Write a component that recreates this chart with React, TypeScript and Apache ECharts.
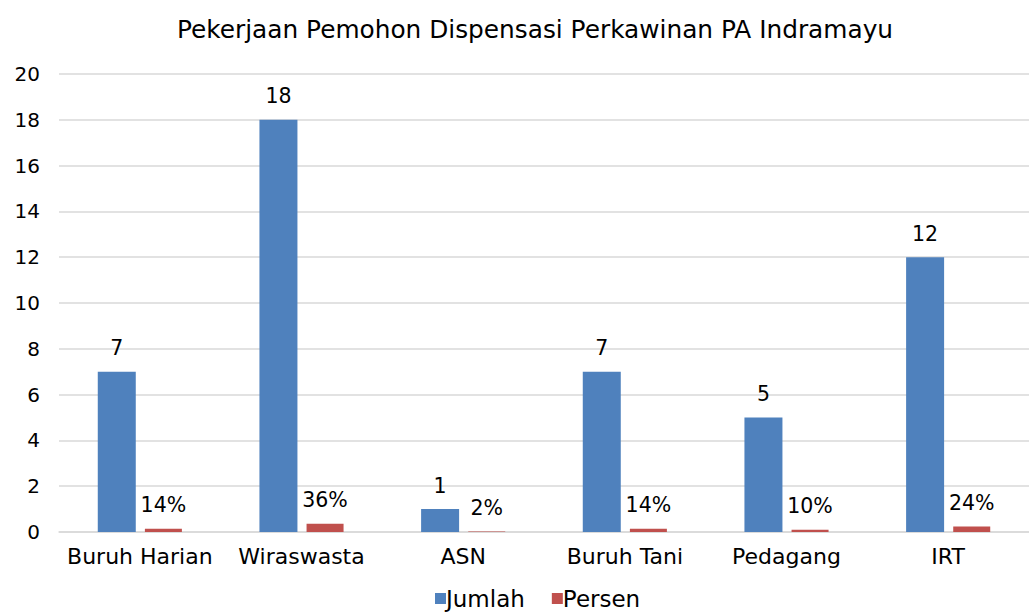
import React, { useEffect, useRef } from "react";
import * as echarts from "echarts";

const categories = ["Buruh Harian", "Wiraswasta", "ASN", "Buruh Tani", "Pedagang", "IRT"];
const jumlah = [7, 18, 1, 7, 5, 12];
const persen = [0.14, 0.36, 0.02, 0.14, 0.1, 0.24];
const yTicks = { min: 0, max: 20, interval: 2 };

const FONT = "'DejaVu Sans', sans-serif";

export default function App() {
  const ref = useRef<HTMLDivElement>(null);
  useEffect(() => {
    const chart = echarts.init(ref.current!, null, { renderer: "svg" });
    chart.setOption({
      animation: false,
      backgroundColor: "#ffffff",
      title: {
        text: "Pekerjaan Pemohon Dispensasi Perkawinan PA Indramayu",
        left: 530,
        textAlign: "center",
        top: 12,
        textStyle: { fontFamily: FONT, fontSize: 24.8, fontWeight: "normal", color: "#000" },
      },
      legend: {
        bottom: -3,
        left: 430,
        itemWidth: 11,
        itemHeight: 11,
        itemGap: 27,
        icon: "rect",
        textStyle: { fontFamily: FONT, fontSize: 23, color: "#000", padding: [0, 0, 0, -5] },
        data: ["Jumlah", "Persen"],
      },
      grid: { left: 59, right: 0, top: 74, bottom: 80 },
      xAxis: {
        type: "category",
        data: categories,
        axisTick: { show: false },
        axisLine: { lineStyle: { color: "#D9D9D9", width: 1.5 } },
        axisLabel: { fontFamily: FONT, fontSize: 22, color: "#000", margin: 13, interval: 0 },
      },
      yAxis: {
        type: "value",
        min: yTicks.min,
        max: yTicks.max,
        interval: yTicks.interval,
        axisLine: { show: false },
        axisTick: { show: false },
        splitLine: { lineStyle: { color: "#D9D9D9", width: 1.5 } },
        axisLabel: { fontFamily: FONT, fontSize: 20, color: "#000", margin: 19 },
      },
      series: [
        {
          name: "Jumlah",
          type: "bar",
          data: jumlah,
          barWidth: 38,
          barGap: "24%",
          itemStyle: { color: "#4F81BD" },
          label: {
            show: true,
            position: "top",
            distance: 13,
            fontFamily: FONT,
            fontSize: 20.5,
            color: "#000",
          },
        },
        {
          name: "Persen",
          type: "bar",
          data: persen,
          barWidth: 37,
          itemStyle: { color: "#C0504D" },
          label: {
            show: true,
            position: "top",
            distance: 13,
            fontFamily: FONT,
            fontSize: 20.5,
            color: "#000",
            formatter: (p: any) => Math.round(p.value * 100) + "%",
          },
        },
      ],
    });
    return () => chart.dispose();
  }, []);
  return <div ref={ref} style={{ position: "fixed", left: 0, top: 0, width: 1029, height: 612 }} />;
}
